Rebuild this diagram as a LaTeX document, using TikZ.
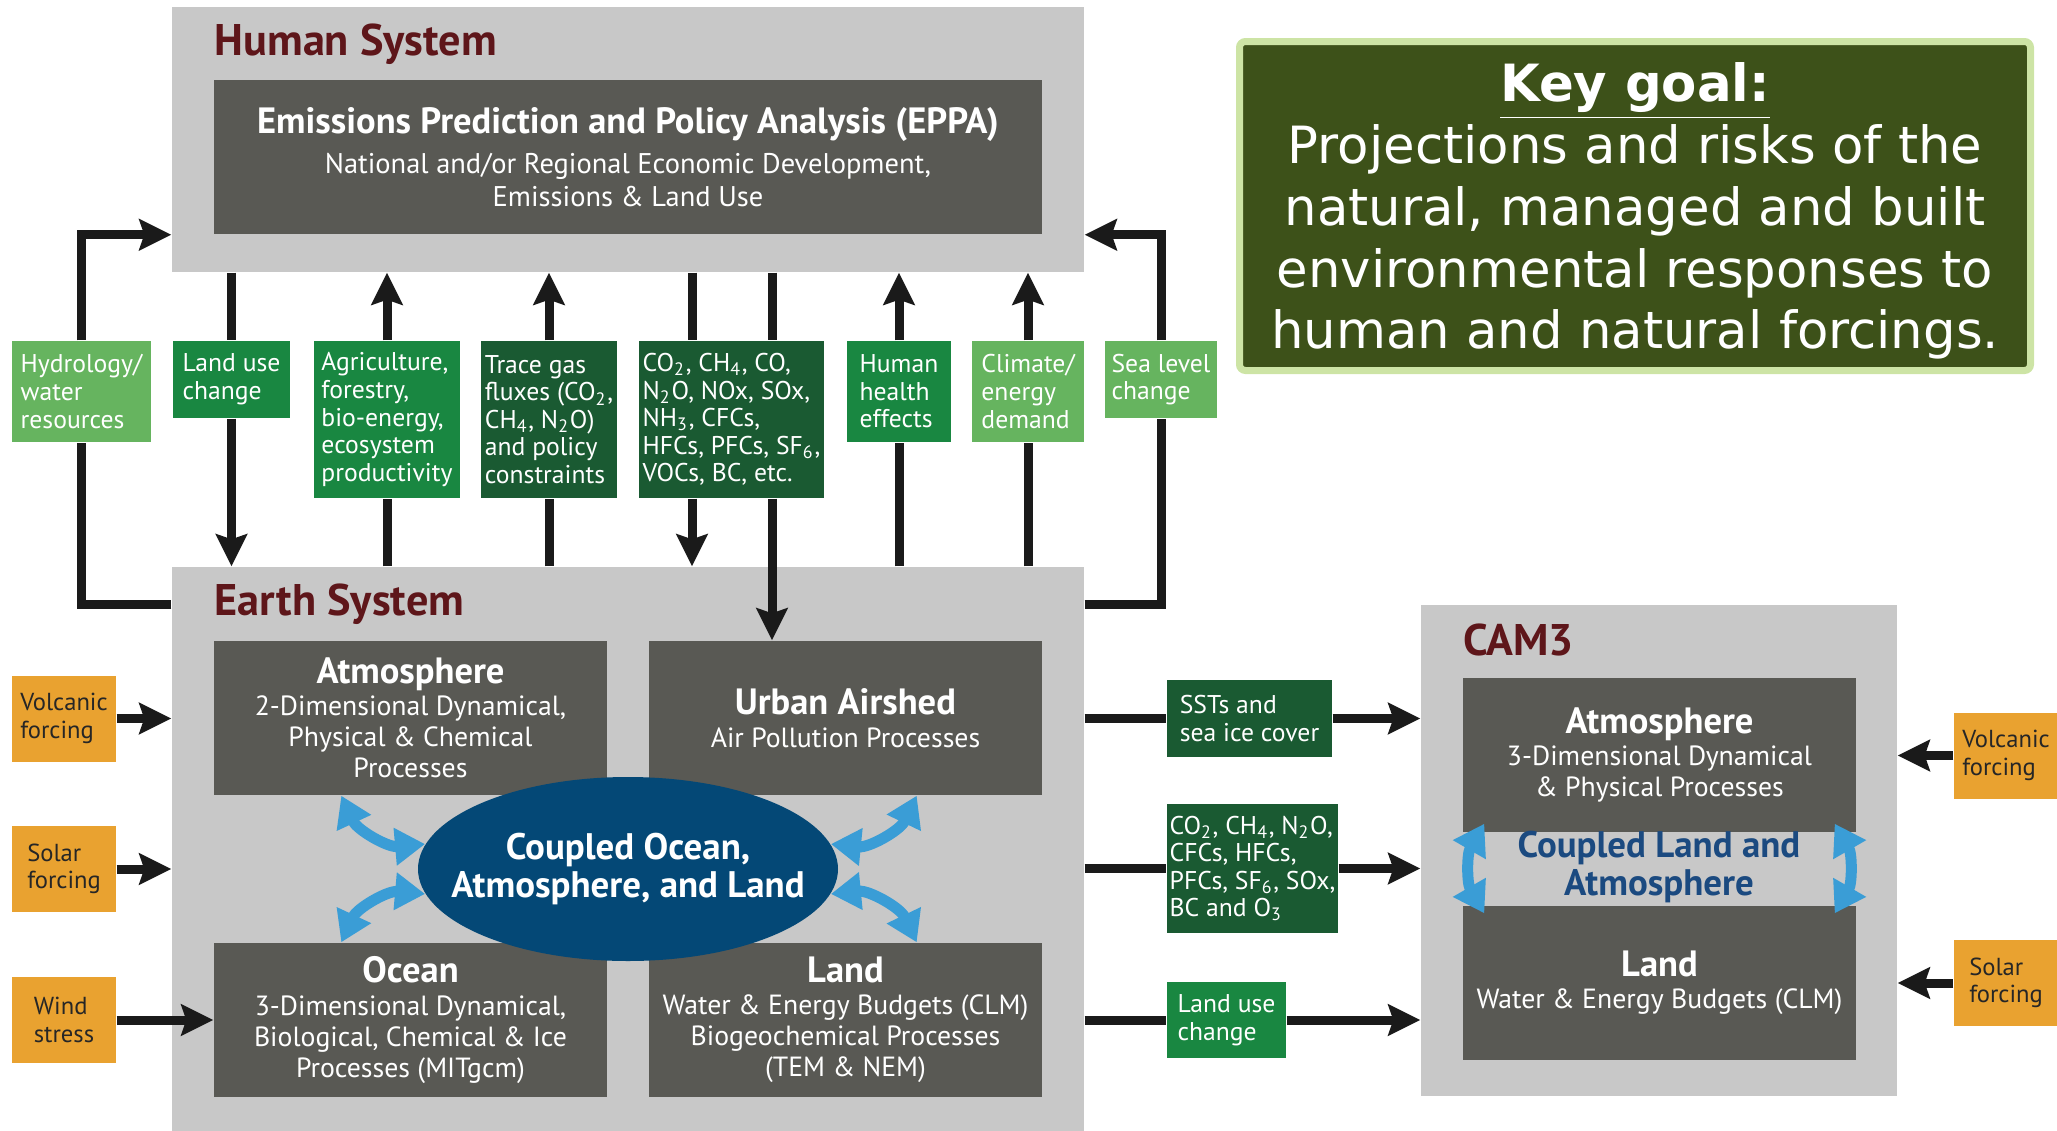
\documentclass[tikz,border=0pt]{standalone}
\usepackage{fontspec}
\setmainfont{PT Sans}
\newfontfamily\goalfont{DejaVu Sans}
\usetikzlibrary{arrows.meta,positioning,calc,shapes.geometric}

\definecolor{panelgrey}{RGB}{200,200,200}
\definecolor{boxgrey}{RGB}{89,89,84}
\definecolor{titlered}{RGB}{94,22,26}
\definecolor{oceanblue}{RGB}{4,72,118}
\definecolor{linkblue}{RGB}{58,157,214}
\definecolor{camblue}{RGB}{27,74,128}
\definecolor{lightgreen}{RGB}{102,180,95}
\definecolor{midgreen}{RGB}{25,135,65}
\definecolor{darkgreen}{RGB}{26,90,50}
\definecolor{forceorange}{RGB}{233,162,48}
\definecolor{goalfill}{RGB}{61,81,25}
\definecolor{goalrim}{RGB}{205,228,165}
\definecolor{wire}{RGB}{26,26,26}

\newcommand{\modelhead}{\bfseries\fontsize{10.4}{11}\selectfont}

\begin{document}
\begin{tikzpicture}[
    panel/.style={rectangle, fill=panelgrey, inner sep=0pt},
    paneltitle/.style={anchor=west, inner sep=0pt, text=titlered, font=\bfseries\fontsize{12.6}{14}\selectfont},
    model/.style={rectangle, fill=boxgrey, text=white, align=center, inner sep=0pt, minimum width=3.93cm, minimum height=1.54cm, font=\fontsize{7.9}{8.8}\selectfont},
    coupled/.style={align=center, inner sep=0pt, font=\bfseries\fontsize{10.5}{10.6}\selectfont},
    flux/.style={rectangle, text=white, align=left, inner sep=0pt, font=\fontsize{7.3}{7.85}\selectfont},
    forcing/.style={rectangle, fill=forceorange, text=black!85, align=left, inner sep=0pt, minimum width=1.04cm, minimum height=0.86cm, font=\fontsize{7}{7.85}\selectfont},
    line/.style={wire, line width=0.09cm},
    arrow/.style={line, -{Stealth[length=0.32cm, width=0.31cm, inset=0.05cm]}},
    link/.style={linkblue, line width=0.11cm, {Triangle[length=0.3cm, width=0.36cm]}-{Triangle[length=0.3cm, width=0.36cm]}}
]
    \useasboundingbox (0,0) rectangle (20.57,-11.31);

    % Human system
    \node[panel, minimum width=9.12cm, minimum height=2.65cm] (human) at (6.28,-1.395) {};
    \node[paneltitle] (humantitle) at (2.14,-0.44) {Human System};
    \node[model, minimum width=8.28cm, font=\fontsize{8.1}{9.4}\selectfont] (eppa) at (6.28,-1.57)
        {{\bfseries\fontsize{10.4}{11}\selectfont Emissions Prediction and Policy Analysis (EPPA)}\\[1.8pt]
         National and/or Regional Economic Development,\\ Emissions \& Land Use};

    % Earth system
    \node[panel, minimum width=9.12cm, minimum height=5.64cm] (earth) at (6.28,-8.49) {};
    \node[paneltitle] (earthtitle) at (2.14,-6.04) {Earth System};
    \node[model] (atm) at (4.105,-7.18)
        {{\modelhead Atmosphere}\\[0.4pt] 2-Dimensional Dynamical,\\ Physical \& Chemical\\ Processes};
    \node[model] (urban) at (8.455,-7.18)
        {{\modelhead Urban Airshed}\\[0.4pt] Air Pollution Processes};
    \node[model] (ocean) at (4.105,-10.20)
        {{\modelhead Ocean}\\[0.4pt] 3-Dimensional Dynamical,\\ Biological, Chemical \& Ice\\ Processes (MITgcm)};
    \node[model] (land) at (8.455,-10.20)
        {{\modelhead Land}\\[0.4pt] Water \& Energy Budgets (CLM)\\ Biogeochemical Processes\\ (TEM \& NEM)};
    \node[ellipse, fill=oceanblue, inner sep=0pt, minimum width=4.2cm, minimum height=1.84cm] (couple) at (6.28,-8.69) {};
    \node[coupled, text=white] (coupletext) at (couple) {Coupled Ocean,\\ Atmosphere, and Land};
    \draw[link] ([xshift=1.28cm]atm.south west) to[bend right=35] (couple.173);
    \draw[link] ([xshift=-1.26cm]urban.south east) to[bend left=35] (couple.7);
    \draw[link] ([xshift=1.28cm]ocean.north west) to[bend left=35] (couple.187);
    \draw[link] ([xshift=-1.26cm]land.north east) to[bend right=35] (couple.353);

    % CAM3
    \node[panel, minimum width=4.76cm, minimum height=4.91cm] (cam) at (16.59,-8.505) {};
    \node[paneltitle] (camtitle) at (14.63,-6.40) {CAM3};
    \node[model] (camatm) at (16.595,-7.55)
        {{\modelhead Atmosphere}\\[0.4pt] 3-Dimensional Dynamical\\ \& Physical Processes};
    \node[model] (camland) at (16.595,-9.83)
        {{\modelhead Land}\\[0.4pt] Water \& Energy Budgets (CLM)};
    \node[coupled, text=camblue] (camcouple) at (16.59,-8.67) {Coupled Land and\\ Atmosphere};
    \draw[link] ([xshift=0.22cm,yshift=0.09cm]camatm.south west) to[bend right=30] ([xshift=0.22cm,yshift=-0.08cm]camland.north west);
    \draw[link] ([xshift=-0.22cm,yshift=0.09cm]camatm.south east) to[bend left=30] ([xshift=-0.22cm,yshift=-0.08cm]camland.north east);

    % Key goal
    \node[rectangle, fill=goalfill, draw=goalrim, line width=0.07cm, rounded corners=0.06cm,
          minimum width=7.91cm, minimum height=3.29cm, inner sep=0pt] (goal) at (16.35,-2.06) {};
    \node[text=white, align=center, inner sep=0pt, font=\goalfont\fontsize{14.6}{17.6}\selectfont] (goaltext) at ([yshift=-0.05cm]goal)
        {{\bfseries\underline{Key goal:}}\\ Projections and risks of the\\ natural, managed and built\\
         environmental responses to\\ human and natural forcings.};

    % Exchanges between human and earth systems
    \node[flux, fill=lightgreen, minimum width=1.39cm, minimum height=1.01cm] (hydro) at (0.815,-3.915) {Hydrology/\\water\\resources};
    \node[flux, fill=midgreen, minimum width=1.17cm, minimum height=0.77cm] (landuse) at (2.315,-3.795) {Land use\\change};
    \node[flux, fill=midgreen, minimum width=1.46cm, minimum height=1.57cm] (agri) at (3.87,-4.195)
        {Agriculture,\\forestry,\\bio-energy,\\ecosystem\\productivity};
    \node[flux, fill=darkgreen, minimum width=1.36cm, minimum height=1.57cm] (trace) at (5.49,-4.195)
        {Trace gas\\fluxes (CO\textsubscript{2},\\CH\textsubscript{4}, N\textsubscript{2}O)\\and policy\\constraints};
    \node[flux, fill=darkgreen, minimum width=1.85cm, minimum height=1.57cm] (gases) at (7.315,-4.195)
        {CO\textsubscript{2}, CH\textsubscript{4}, CO,\\N\textsubscript{2}O, NOx, SOx,\\NH\textsubscript{3}, CFCs,\\HFCs, PFCs, SF\textsubscript{6},\\VOCs, BC, etc.};
    \node[flux, fill=midgreen, minimum width=1.04cm, minimum height=1.01cm] (health) at (8.99,-3.915) {Human\\health\\effects};
    \node[flux, fill=lightgreen, minimum width=1.12cm, minimum height=1.01cm] (climate) at (10.28,-3.915) {Climate/\\energy\\demand};
    \node[flux, fill=lightgreen, minimum width=1.12cm, minimum height=0.77cm] (sealevel) at (11.61,-3.795) {Sea level\\change};

    \draw[line] (earth.west |- earthtitle) -| (hydro.south);
    \draw[arrow] (hydro.north) |- (human.west |- eppa.south);
    \draw[line] (human.south -| landuse) -- (landuse.north);
    \draw[arrow] (landuse.south) -- (earth.north -| landuse);
    \draw[line] (earth.north -| agri) -- (agri.south);
    \draw[arrow] (agri.north) -- (human.south -| agri);
    \draw[line] (earth.north -| trace) -- (trace.south);
    \draw[arrow] (trace.north) -- (human.south -| trace);
    \coordinate (gasin) at ([xshift=-0.395cm]gases.south);
    \coordinate (urbanin) at ([xshift=0.405cm]gases.south);
    \draw[line] (human.south -| gasin) -- (gases.north -| gasin);
    \draw[arrow] (gasin) -- (earth.north -| gasin);
    \draw[line] (human.south -| urbanin) -- (gases.north -| urbanin);
    \draw[arrow] (urbanin) -- (urban.north -| urbanin);
    \draw[line] (earth.north -| health) -- (health.south);
    \draw[arrow] (health.north) -- (human.south -| health);
    \draw[line] (earth.north -| climate) -- (climate.south);
    \draw[arrow] (climate.north) -- (human.south -| climate);
    \draw[line] (earth.east |- earthtitle) -| (sealevel.south);
    \draw[arrow] (sealevel.north) |- (human.east |- eppa.south);

    % Forcings
    \node[forcing] (volc) at (0.64,-7.185) {Volcanic\\forcing};
    \node[forcing] (solar) at (0.64,-8.69) {Solar\\forcing};
    \node[forcing] (wind) at (0.64,-10.20) {Wind\\stress};
    \node[forcing] (volcr) at (20.06,-7.555) {Volcanic\\forcing};
    \node[forcing] (solarr) at (20.06,-9.83) {Solar\\forcing};
    \draw[arrow] (volc) -- (volc -| earth.west);
    \draw[arrow] (solar) -- (solar -| earth.west);
    \draw[arrow] (wind) -- (wind -| ocean.west);
    \draw[arrow] (volcr) -- (volcr -| cam.east);
    \draw[arrow] (solarr) -- (solarr -| cam.east);

    % Earth system to CAM3
    \node[flux, fill=darkgreen, minimum width=1.65cm, minimum height=0.77cm] (ssts) at (12.495,-7.185) {SSTs and\\sea ice cover};
    \node[flux, fill=darkgreen, minimum width=1.71cm, minimum height=1.29cm] (gasesr) at (12.525,-8.685)
        {CO\textsubscript{2}, CH\textsubscript{4}, N\textsubscript{2}O,\\CFCs, HFCs,\\PFCs, SF\textsubscript{6}, SOx,\\BC and O\textsubscript{3}};
    \node[flux, fill=midgreen, minimum width=1.19cm, minimum height=0.76cm] (landuser) at (12.265,-10.20) {Land use\\change};
    \draw[line] (ssts -| earth.east) -- (ssts);
    \draw[arrow] (ssts) -- (ssts -| cam.west);
    \draw[line] (gasesr -| earth.east) -- (gasesr);
    \draw[arrow] (gasesr) -- (gasesr -| cam.west);
    \draw[line] (landuser -| earth.east) -- (landuser);
    \draw[arrow] (landuser) -- (landuser -| cam.west);
\end{tikzpicture}
\end{document}
